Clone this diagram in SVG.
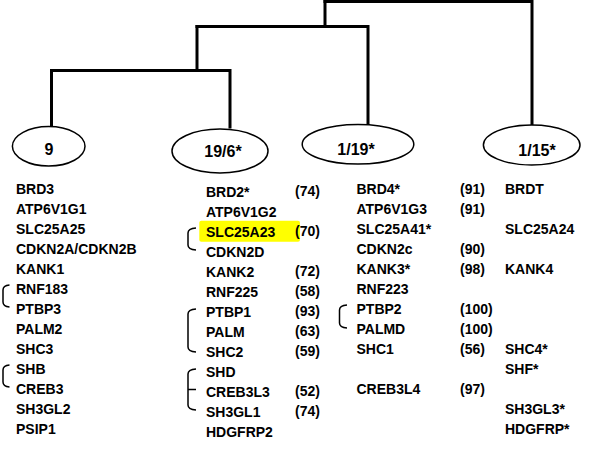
<svg xmlns="http://www.w3.org/2000/svg" width="603" height="471" viewBox="0 0 603 471">
<style>
.ln{fill:none;stroke:#000;stroke-width:3;stroke-linecap:square}
.el{fill:#fff;stroke:#000;stroke-width:1.5}
.lb{font-family:"Liberation Sans",Arial,sans-serif;font-weight:bold;font-size:16px;text-anchor:middle;fill:#000}
.g{font-family:"Liberation Sans",Arial,sans-serif;font-weight:bold;font-size:14px;fill:#000}
.br{fill:none;stroke:#000;stroke-width:1.5}
</style>
<rect width="603" height="471" fill="#fff"/>
<g id="connectors">
<path class="ln" d="M325,1.5 H532 V125"/>
<path class="ln" d="M325,1.5 V26.5"/>
<path class="ln" d="M197,26.5 H368 V124"/>
<path class="ln" d="M197,26.5 V70.5"/>
<path class="ln" d="M51.5,70.5 H230 V127"/>
<path class="ln" d="M51.5,70.5 V126"/>
</g>
<g id="node-9">
<ellipse class="el" cx="48.7" cy="146.3" rx="36.3" ry="19.7"/>
<text class="lb" x="49" y="155">9</text>
</g>
<g id="node-19-6">
<ellipse class="el" cx="220" cy="151" rx="48" ry="22"/>
<text class="lb" x="223" y="156.5">19/6*</text>
</g>
<g id="node-1-19">
<ellipse class="el" cx="358" cy="144.2" rx="55.8" ry="19.8"/>
<text class="lb" x="356" y="155">1/19*</text>
</g>
<g id="node-1-15">
<ellipse class="el" cx="531.7" cy="145" rx="48.3" ry="20"/>
<text class="lb" x="537" y="155.5">1/15*</text>
</g>
<g id="list-9">
<path class="br" d="M9.5,285 Q3,285.5 3,290 V302 Q3,306.5 9.5,307"/>
<path class="br" d="M9.5,365 Q3,365.5 3,370 V382 Q3,386.5 9.5,387"/>
<text class="g" x="16" y="194">BRD3</text>
<text class="g" x="16" y="214">ATP6V1G1</text>
<text class="g" x="16" y="234">SLC25A25</text>
<text class="g" x="16" y="254">CDKN2A/CDKN2B</text>
<text class="g" x="16" y="274">KANK1</text>
<text class="g" x="16" y="294">RNF183</text>
<text class="g" x="16" y="314">PTBP3</text>
<text class="g" x="16" y="334">PALM2</text>
<text class="g" x="16" y="354">SHC3</text>
<text class="g" x="16" y="374">SHB</text>
<text class="g" x="16" y="394">CREB3</text>
<text class="g" x="16" y="414">SH3GL2</text>
<text class="g" x="16" y="434">PSIP1</text>
</g>
<g id="list-19-6">
<rect x="199.3" y="220.7" width="100.7" height="21" rx="2" fill="#ffff00"/>
<path class="br" d="M196,228 Q188,228.5 188,233 V245 Q188,249.5 196,250"/>
<path class="br" d="M196,309 Q188,309.5 188,314 V347 Q188,351.5 196,352"/>
<path class="br" d="M196,369 Q188,369.5 188,374 V405 Q188,409.5 196,410 M188,389.5 H196"/>
<text class="g" x="206" y="196.5">BRD2*</text>
<text class="g" x="206" y="216.5">ATP6V1G2</text>
<text class="g" x="206" y="236.5">SLC25A23</text>
<text class="g" x="206" y="256.5">CDKN2D</text>
<text class="g" x="206" y="276.5">KANK2</text>
<text class="g" x="206" y="296.5">RNF225</text>
<text class="g" x="206" y="316.5">PTBP1</text>
<text class="g" x="206" y="336.5">PALM</text>
<text class="g" x="206" y="356.5">SHC2</text>
<text class="g" x="206" y="376.5">SHD</text>
<text class="g" x="206" y="396.5">CREB3L3</text>
<text class="g" x="206" y="416.5">SH3GL1</text>
<text class="g" x="206" y="436.5">HDGFRP2</text>
<text class="g" x="295" y="195.5">(74)</text>
<text class="g" x="295" y="235.5">(70)</text>
<text class="g" x="295" y="275.5">(72)</text>
<text class="g" x="295" y="295.5">(58)</text>
<text class="g" x="295" y="315.5">(93)</text>
<text class="g" x="295" y="335.5">(63)</text>
<text class="g" x="295" y="355.5">(59)</text>
<text class="g" x="295" y="395.5">(52)</text>
<text class="g" x="295" y="415.5">(74)</text>
</g>
<g id="list-1-19">
<path class="br" d="M347,305 Q339.5,305.5 339.5,310 V323 Q339.5,327.5 347,328"/>
<text class="g" x="356.5" y="194">BRD4*</text>
<text class="g" x="356.5" y="214">ATP6V1G3</text>
<text class="g" x="356.5" y="234">SLC25A41*</text>
<text class="g" x="356.5" y="254">CDKN2c</text>
<text class="g" x="356.5" y="274">KANK3*</text>
<text class="g" x="356.5" y="294">RNF223</text>
<text class="g" x="356.5" y="314">PTBP2</text>
<text class="g" x="356.5" y="334">PALMD</text>
<text class="g" x="356.5" y="354">SHC1</text>
<text class="g" x="356.5" y="394">CREB3L4</text>
<text class="g" x="460" y="193.5">(91)</text>
<text class="g" x="460" y="213.5">(91)</text>
<text class="g" x="460" y="253.5">(90)</text>
<text class="g" x="460" y="273.5">(98)</text>
<text class="g" x="460" y="313.5">(100)</text>
<text class="g" x="460" y="333.5">(100)</text>
<text class="g" x="460" y="353.5">(56)</text>
<text class="g" x="460" y="393.5">(97)</text>
</g>
<g id="list-1-15">
<text class="g" x="505" y="194">BRDT</text>
<text class="g" x="505" y="234">SLC25A24</text>
<text class="g" x="505" y="274">KANK4</text>
<text class="g" x="505" y="354">SHC4*</text>
<text class="g" x="505" y="374">SHF*</text>
<text class="g" x="505" y="414">SH3GL3*</text>
<text class="g" x="505" y="434">HDGFRP*</text>
</g>
</svg>
